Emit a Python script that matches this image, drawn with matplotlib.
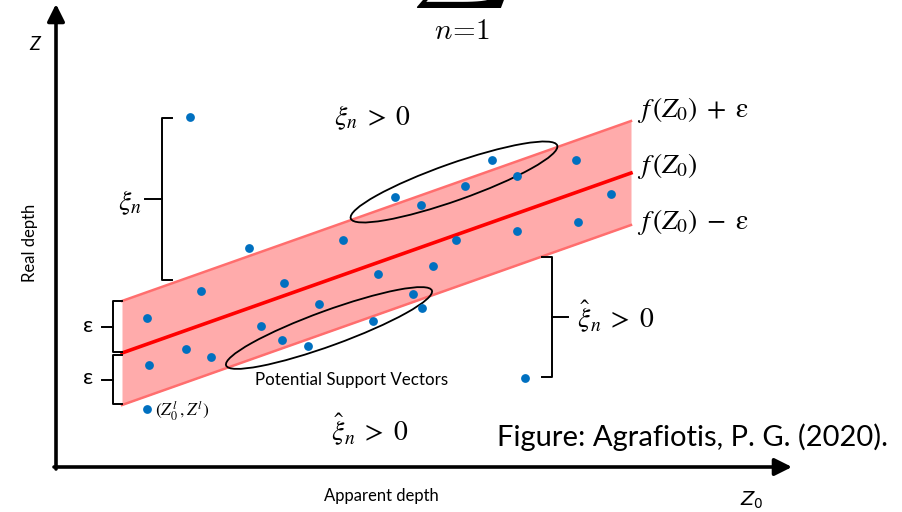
import matplotlib
matplotlib.use("Agg")
import matplotlib.pyplot as plt
from matplotlib.patches import Ellipse
import numpy as np

# Everything is laid out on a 902 x 512 canvas, y running downwards.
W, H = 902, 512

# regression tube f(Z0) +/- eps
x_band = [122, 631]
y_center_left = 353
slope = -0.3536
eps = 52

# observed samples (Z0, Z)
pts_x = [190, 249, 343, 201, 147, 284, 319, 378, 395, 421, 465, 492, 517, 576,
         611, 456, 433, 517, 578, 413, 422, 373, 261, 282, 308, 186, 211, 149,
         525]
pts_y = [117, 248, 240, 291, 318, 283, 304, 274, 197, 205, 186, 160, 176, 160,
         194, 240, 266, 231, 222, 294, 308, 321, 326, 340, 346, 349, 357, 365,
         378]
legend_pt = (147, 409)

# ellipses around the potential support vectors: centre, length, thickness, tilt
ellipses = [((454, 182), 219, 37, 19.5),
            ((329, 328), 219, 35, 20.0)]

blue = "#0070C0"
band_fill = "#FFABAB"
band_edge = "#FF6E6E"
red = "#FF0000"

fig = plt.figure(figsize=(W / 100, H / 100), dpi=100)
ax = fig.add_axes([0, 0, 1, 1])
ax.set_xlim(0, W)
ax.set_ylim(H, 0)
ax.axis("off")

xb = np.array(x_band, dtype=float)
yc = y_center_left + slope * (xb - x_band[0])
ax.fill_between(xb, yc - eps, yc + eps, color=band_fill, lw=0, zorder=1)
ax.plot(xb, yc - eps, color=band_edge, lw=1.8, zorder=2)
ax.plot(xb, yc + eps, color=band_edge, lw=1.8, zorder=2)
ax.plot(xb, yc, color=red, lw=2.6, zorder=3)

for (c, w, h, ang) in ellipses:
    ax.add_patch(Ellipse(c, w, h, angle=-ang, fill=False, ec="black",
                         lw=1.3, zorder=4))

ax.scatter(pts_x, pts_y, s=40, color=blue, lw=0, zorder=5)
ax.scatter([legend_pt[0]], [legend_pt[1]], s=40, color=blue, lw=0, zorder=5)

# axes arrows
arrow = dict(arrowstyle="-|>", lw=2.6, color="black", mutation_scale=26,
             shrinkA=0, shrinkB=0)
ax.annotate("", xy=(56, 4), xytext=(56, 469), arrowprops=arrow)
ax.annotate("", xy=(792, 467), xytext=(54, 467), arrowprops=arrow)


def brace(x, y0, y1, hook, tick):
    # square bracket style brace with a tick in the middle
    ym = (y0 + y1) / 2
    ax.plot([x + hook, x, x, x + hook], [y0, y0, y1, y1], color="black",
            lw=1.4, zorder=6)
    ax.plot([x, x + tick], [ym, ym], color="black", lw=1.4, zorder=6)


brace(162, 118, 280, 10, -17)
brace(113, 301, 352, 9, -11)
brace(113, 355, 404, 9, -11)
brace(552, 257, 377, -10, 16)

sans = "Lato"
ax.text(35, 45, "Z", fontsize=14, style="italic", family=sans,
        ha="center", va="center")
ax.text(752, 500, "$Z_0$", fontsize=14, math_fontfamily="dejavusans",
        ha="center", va="center")
ax.text(30, 243, "Real depth", fontsize=12, family=sans, rotation=90,
        ha="center", va="center")
ax.text(381, 496, "Apparent depth", fontsize=12, family=sans,
        ha="center", va="center")
ax.text(352, 380, "Potential Support Vectors", fontsize=12.2, family=sans,
        ha="center", va="center")
ax.text(497, 437, "Figure: Agrafiotis, P. G. (2020).", fontsize=21,
        family=sans, ha="left", va="center")
ax.text(88, 326, "ε", fontsize=16, family=sans, ha="center", va="center")
ax.text(88, 378, "ε", fontsize=16, family=sans, ha="center", va="center")

mf = "stix"
fs = 20
ax.text(372, 118, r"$\xi_n\;>\;0$", fontsize=fs, math_fontfamily=mf,
        ha="center", va="center")
ax.text(370, 430, r"$\hat{\xi}_n\;>\;0$", fontsize=fs, math_fontfamily=mf,
        ha="center", va="center")
ax.text(577, 317, r"$\hat{\xi}_n\;>\;0$", fontsize=fs, math_fontfamily=mf,
        ha="left", va="center")
ax.text(130, 203, r"$\xi_n$", fontsize=fs, math_fontfamily=mf,
        ha="center", va="center")
ax.text(637, 110, r"$f\,(Z_0)\;+\;\mathrm{\varepsilon}$", fontsize=fs,
        math_fontfamily=mf, ha="left", va="center")
ax.text(637, 166, r"$f\,(Z_0)$", fontsize=fs, math_fontfamily=mf,
        ha="left", va="center")
ax.text(637, 222, r"$f\,(Z_0)\;-\;\mathrm{\varepsilon}$", fontsize=fs,
        math_fontfamily=mf, ha="left", va="center")
ax.text(155, 411, r"$(Z_0^l\,,Z^l)$", fontsize=12.5, math_fontfamily=mf,
        ha="left", va="center")

# summation sign running off the top edge
ax.text(461, 10, r"$\sum$", fontsize=50, math_fontfamily="cm",
        ha="center", va="bottom")
ax.text(462, 31, r"$n\!=\!1$", fontsize=21, math_fontfamily="cm",
        ha="center", va="center")

fig.savefig("out.png", dpi=100)
